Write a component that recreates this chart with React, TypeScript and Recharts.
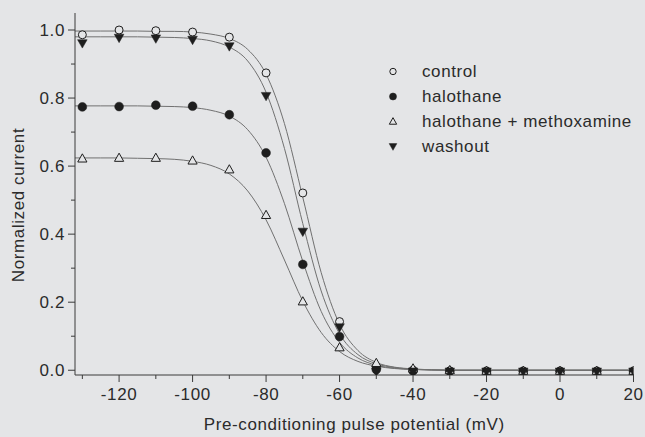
import React from 'react';
import { ComposedChart, Line, Scatter, XAxis, YAxis, Legend } from 'recharts';

// Measured pre-conditioning potentials (mV)
const volts = [-130, -120, -110, -100, -90, -80, -70, -60, -50, -40, -30, -20, -10, 0, 10, 20];
const controlValues = [0.986, 1.0, 0.998, 0.994, 0.979, 0.874, 0.521, 0.143, 0.01, 0.0, -0.002, -0.003, -0.003, -0.003, -0.003, -0.003];
const halothaneValues = [0.774, 0.775, 0.779, 0.776, 0.751, 0.639, 0.311, 0.099, 0.002, -0.002, -0.003, -0.003, -0.003, -0.003, -0.003, -0.003];
const methoxamineValues = [0.622, 0.624, 0.624, 0.616, 0.59, 0.456, 0.202, 0.067, 0.021, 0.005, 0.0, -0.002, -0.002, -0.002, -0.002, -0.002];
const washoutValues = [0.961, 0.977, 0.975, 0.971, 0.952, 0.806, 0.407, 0.126, -0.004, -0.004, -0.004, -0.004, -0.004, -0.004, -0.004, -0.004];

// Fitted curves
const fitVolts = [-132, -125, -120, -115, -110, -105, -100, -95, -90, -85, -80, -75, -70, -65, -60, -55, -50, -45, -40, -35, -30, -20, -10, 0, 10, 20];
const controlFit = [0.997, 0.997, 0.997, 0.997, 0.996, 0.996, 0.994, 0.988, 0.975, 0.943, 0.87, 0.725, 0.508, 0.287, 0.135, 0.058, 0.023, 0.009, 0.004, 0.001, 0.0, 0.0, 0.0, 0.0, 0.0, 0.0];
const halothaneFit = [0.777, 0.777, 0.777, 0.777, 0.776, 0.775, 0.772, 0.764, 0.747, 0.707, 0.626, 0.49, 0.32, 0.173, 0.082, 0.036, 0.015, 0.006, 0.0025, 0.001, 0.0, 0.0, 0.0, 0.0, 0.0, 0.0];
const methoxamineFit = [0.624, 0.624, 0.624, 0.623, 0.622, 0.62, 0.614, 0.602, 0.577, 0.527, 0.442, 0.324, 0.203, 0.111, 0.055, 0.026, 0.012, 0.005, 0.002, 0.001, 0.0, 0.0, 0.0, 0.0, 0.0, 0.0];
const washoutFit = [0.98, 0.98, 0.98, 0.98, 0.979, 0.978, 0.975, 0.968, 0.95, 0.909, 0.817, 0.652, 0.431, 0.233, 0.107, 0.046, 0.019, 0.008, 0.003, 0.001, 0.0, 0.0, 0.0, 0.0, 0.0, 0.0];

const seriesNames = ['control', 'halothane', 'halothane + methoxamine', 'washout'];

const xTicks = [-130, -120, -110, -100, -90, -80, -70, -60, -50, -40, -30, -20, -10, 0, 10, 20];
const xLabelTicks = [-120, -100, -80, -60, -40, -20, 0, 20];
const yTicks = [0, 0.1, 0.2, 0.3, 0.4, 0.5, 0.6, 0.7, 0.8, 0.9, 1.0];
const yLabelTicks = [0, 0.2, 0.4, 0.6, 0.8, 1.0];

const BG = '#e4e5e7';
const INK = '#1e1e1e';
const AXIS = '#3a3a3a';
const FIT = '#707070';
const TEXT = '#2b2b2b';
const FONT = '"Liberation Sans", Arial, Helvetica, sans-serif';
const FS = 17;
const LS = 0.6;

const pts = (xs: number[], ys: number[]) => xs.map((x, i) => ({ x, y: ys[i] }));

type MarkerKind = 'openCircle' | 'filledCircle' | 'openTriUp' | 'filledTriDown';
const kinds: MarkerKind[] = ['openCircle', 'filledCircle', 'openTriUp', 'filledTriDown'];

function Marker({ kind, cx, cy, s = 1 }: { kind: MarkerKind; cx: number; cy: number; s?: number }) {
  if (kind === 'openCircle') return <circle cx={cx} cy={cy} r={4 * s} fill={BG} stroke={INK} strokeWidth={1} />;
  if (kind === 'filledCircle') return <circle cx={cx} cy={cy} r={4.4 * s} fill={INK} stroke={INK} strokeWidth={0.5} />;
  if (kind === 'openTriUp') {
    const p = `${cx},${cy - 4.8 * s} ${cx - 4.6 * s},${cy + 3.4 * s} ${cx + 4.6 * s},${cy + 3.4 * s}`;
    return <polygon points={p} fill={BG} stroke={INK} strokeWidth={1} />;
  }
  const p = `${cx},${cy + 4.8 * s} ${cx - 4.8 * s},${cy - 3.6 * s} ${cx + 4.8 * s},${cy - 3.6 * s}`;
  return <polygon points={p} fill={INK} stroke={INK} strokeWidth={0.5} />;
}

function XTick(props: any) {
  const { x, y, payload } = props;
  const v = payload.value;
  const major = xLabelTicks.includes(v);
  return (
    <g>
      <line x1={x} x2={x} y1={y} y2={y + (major ? 7 : 4)} stroke={AXIS} strokeWidth={1} />
      {major && (
        <text x={x} y={y + 25} textAnchor="middle" fill={TEXT} fontFamily={FONT} fontSize={FS} letterSpacing={LS}>
          {v}
        </text>
      )}
    </g>
  );
}

function YTick(props: any) {
  const { x, y, payload } = props;
  const v = payload.value;
  const major = yLabelTicks.some((t) => Math.abs(t - v) < 1e-9);
  return (
    <g>
      <line x1={x - (major ? 7 : 4)} x2={x} y1={y} y2={y} stroke={AXIS} strokeWidth={1} />
      {major && (
        <text x={x - 10} y={y + 6} textAnchor="end" fill={TEXT} fontFamily={FONT} fontSize={FS} letterSpacing={LS}>
          {v.toFixed(1)}
        </text>
      )}
    </g>
  );
}

function YLabel(props: any) {
  const { viewBox } = props;
  const cx = viewBox.x + 18;
  const cy = viewBox.y + viewBox.height / 2 + 11;
  return (
    <text x={cx} y={cy} transform={`rotate(-90 ${cx} ${cy})`} textAnchor="middle" dominantBaseline="central" fill={TEXT} fontFamily={FONT} fontSize={FS} letterSpacing={LS}>
      Normalized current
    </text>
  );
}

function XLabel(props: any) {
  const { viewBox } = props;
  const cx = viewBox.x + viewBox.width / 2;
  const cy = viewBox.y + 55;
  return (
    <text x={cx} y={cy} textAnchor="middle" fill={TEXT} fontFamily={FONT} fontSize={FS} letterSpacing={LS}>
      Pre-conditioning pulse potential (mV)
    </text>
  );
}

function LegendContent() {
  return (
    <div style={{ position: 'relative', width: 250, height: 104 }}>
      {seriesNames.map((name, i) => (
        <div key={name} style={{ position: 'absolute', left: 0, top: i * 25, height: 25, display: 'flex', alignItems: 'center' }}>
          <svg width={20} height={25} style={{ display: 'block' }}>
            <Marker kind={kinds[i]} cx={10} cy={12.5} s={0.8} />
          </svg>
          <span style={{ marginLeft: 19, fontFamily: FONT, fontSize: FS, letterSpacing: LS, color: TEXT, whiteSpace: 'nowrap', lineHeight: '25px' }}>
            {name}
          </span>
        </div>
      ))}
    </div>
  );
}

const dataSets = [
  pts(volts, controlValues),
  pts(volts, halothaneValues),
  pts(volts, methoxamineValues),
  pts(volts, washoutValues),
];
const fitSets = [
  pts(fitVolts, controlFit),
  pts(fitVolts, halothaneFit),
  pts(fitVolts, methoxamineFit),
  pts(fitVolts, washoutFit),
];

export default function App() {
  return (
    <div style={{ position: 'absolute', left: 0, top: 0, width: 645, height: 437, background: BG }}>
      <ComposedChart width={645} height={437} margin={{ top: 13, right: 11.5, bottom: 0, left: 0 }}>
        <XAxis
          type="number"
          dataKey="x"
          domain={[-132, 20]}
          ticks={xTicks}
          interval={0}
          allowDataOverflow
          height={62}
          tickSize={0}
          tickMargin={0}
          tickLine={false}
          axisLine={{ stroke: AXIS, strokeWidth: 1 }}
          tick={<XTick />}
          label={<XLabel />}
        />
        <YAxis
          type="number"
          dataKey="y"
          domain={[-0.014, 1.05]}
          ticks={yTicks}
          interval={0}
          allowDataOverflow
          width={75}
          tickSize={0}
          tickMargin={0}
          tickLine={false}
          axisLine={{ stroke: AXIS, strokeWidth: 1 }}
          tick={<YTick />}
          label={<YLabel />}
        />
        {fitSets.map((d, i) => (
          <Line
            key={'fit' + i}
            data={d}
            dataKey="y"
            type="monotone"
            stroke={FIT}
            strokeWidth={1}
            dot={false}
            activeDot={false}
            isAnimationActive={false}
            legendType="none"
          />
        ))}
        {dataSets.map((d, i) => (
          <Scatter
            key={'pts' + i}
            name={seriesNames[i]}
            data={d}
            dataKey="y"
            isAnimationActive={false}
            shape={(p: any) => <Marker kind={kinds[i]} cx={p.cx} cy={p.cy} />}
          />
        ))}
        <Legend
          layout="vertical"
          align="center"
          verticalAlign="middle"
          content={<LegendContent />}
          wrapperStyle={{ position: 'absolute', left: 383, top: 58.5, width: 250, height: 104 }}
        />
      </ComposedChart>
    </div>
  );
}
